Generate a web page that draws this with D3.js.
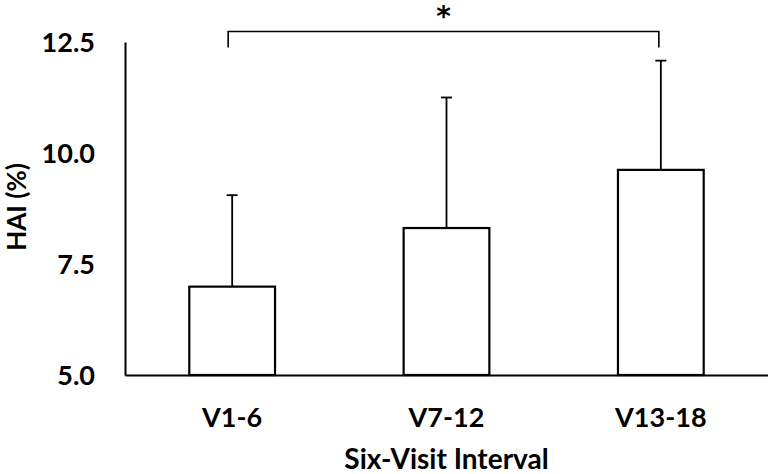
<!DOCTYPE html>
<html>
<head>
<meta charset="utf-8">
<script src="https://cdn.jsdelivr.net/npm/d3@7/dist/d3.min.js"></script>
<style>
html,body{margin:0;padding:0;background:#fff;}
svg{display:block;}
text{font-family:Lato,"Open Sans",sans-serif;font-weight:700;fill:#000;}
</style>
</head>
<body>
<svg id="chart" width="768" height="474"></svg>
<script>
const categories = ["V1-6", "V7-12", "V13-18"];
const means = [6.99, 8.31, 9.62];
const sds = [2.06, 2.94, 2.46];
const yTicks = [5.0, 7.5, 10.0, 12.5];
const xTitle = "Six-Visit Interval";
const yTitle = "HAI (%)";
const sigPair = ["V1-6", "V13-18"];
const sigLabel = "*";

(function () {
const svg = d3.select("#chart");
const W = 768;
const mLeft = 125, mBottom = 375, mTop = 42;

const x = d3.scaleBand().domain(categories).range([mLeft, W]).paddingInner(0.6).paddingOuter(0.3);
const y = d3.scaleLinear().domain([5, 12.5]).range([mBottom, mTop]);

// Axes
const yAxis = d3.axisLeft(y).tickValues(yTicks).tickFormat(d3.format(".1f")).tickSize(0).tickPadding(30);
const gy = svg.append("g").attr("transform", `translate(${mLeft},0)`).call(yAxis);
gy.select(".domain").attr("stroke", "#000").attr("stroke-width", 2);
gy.selectAll("text").style("font-size", "27px").style("font-family", "Lato").style("font-weight", 700).attr("dy", "0.36em");

const xAxis = d3.axisBottom(x).tickSize(0).tickPadding(52);
const gx = svg.append("g").attr("transform", `translate(0,${mBottom})`).call(xAxis);
gx.select(".domain").attr("stroke", "#000").attr("stroke-width", 2);
gx.selectAll("text").style("font-size", "27px").style("font-family", "Lato").style("font-weight", 700).attr("dy", "0");

// Bars
const data = categories.map((c, i) => ({c, m: means[i], sd: sds[i]}));
svg.append("g").selectAll("rect").data(data).join("rect")
  .attr("x", d => x(d.c))
  .attr("y", d => y(d.m))
  .attr("width", x.bandwidth())
  .attr("height", d => y(5) - y(d.m))
  .attr("fill", "#fff").attr("stroke", "#000").attr("stroke-width", 2.2);

// Error bars (upper only)
const eb = svg.append("g").attr("stroke", "#000").attr("stroke-width", 1.8);
eb.selectAll("line.v").data(data).join("line").attr("class", "v")
  .attr("x1", d => x(d.c) + x.bandwidth() / 2).attr("x2", d => x(d.c) + x.bandwidth() / 2)
  .attr("y1", d => y(d.m)).attr("y2", d => y(d.m + d.sd));
eb.selectAll("line.cap").data(data).join("line").attr("class", "cap")
  .attr("x1", d => x(d.c) + x.bandwidth() / 2 - 5.5).attr("x2", d => x(d.c) + x.bandwidth() / 2 + 5.5)
  .attr("y1", d => y(d.m + d.sd)).attr("y2", d => y(d.m + d.sd));

// Significance bracket
const bx1 = x(sigPair[0]) + x.bandwidth() / 2 - 4;
const bx2 = x(sigPair[1]) + x.bandwidth() / 2 - 2;
const bTop = y(12.5) - 10.5, bBot = y(12.5) + 5.5;
svg.append("path")
  .attr("d", `M${bx1},${bBot} V${bTop} H${bx2} V${bBot}`)
  .attr("fill", "none").attr("stroke", "#000").attr("stroke-width", 1.6);
svg.append("text").attr("x", (bx1 + bx2) / 2).attr("y", 26)
  .attr("text-anchor", "middle")
  .style("font-family", "'DejaVu Sans'").style("font-size", "28px").text(sigLabel);

// Titles
svg.append("text").attr("x", (mLeft + W) / 2).attr("y", 469)
  .attr("text-anchor", "middle").style("font-size", "28px").text(xTitle);
svg.append("text").attr("transform", `translate(26,207) rotate(-90)`)
  .attr("text-anchor", "middle").style("font-size", "26px").text(yTitle);
})();
</script>
</body>
</html>
